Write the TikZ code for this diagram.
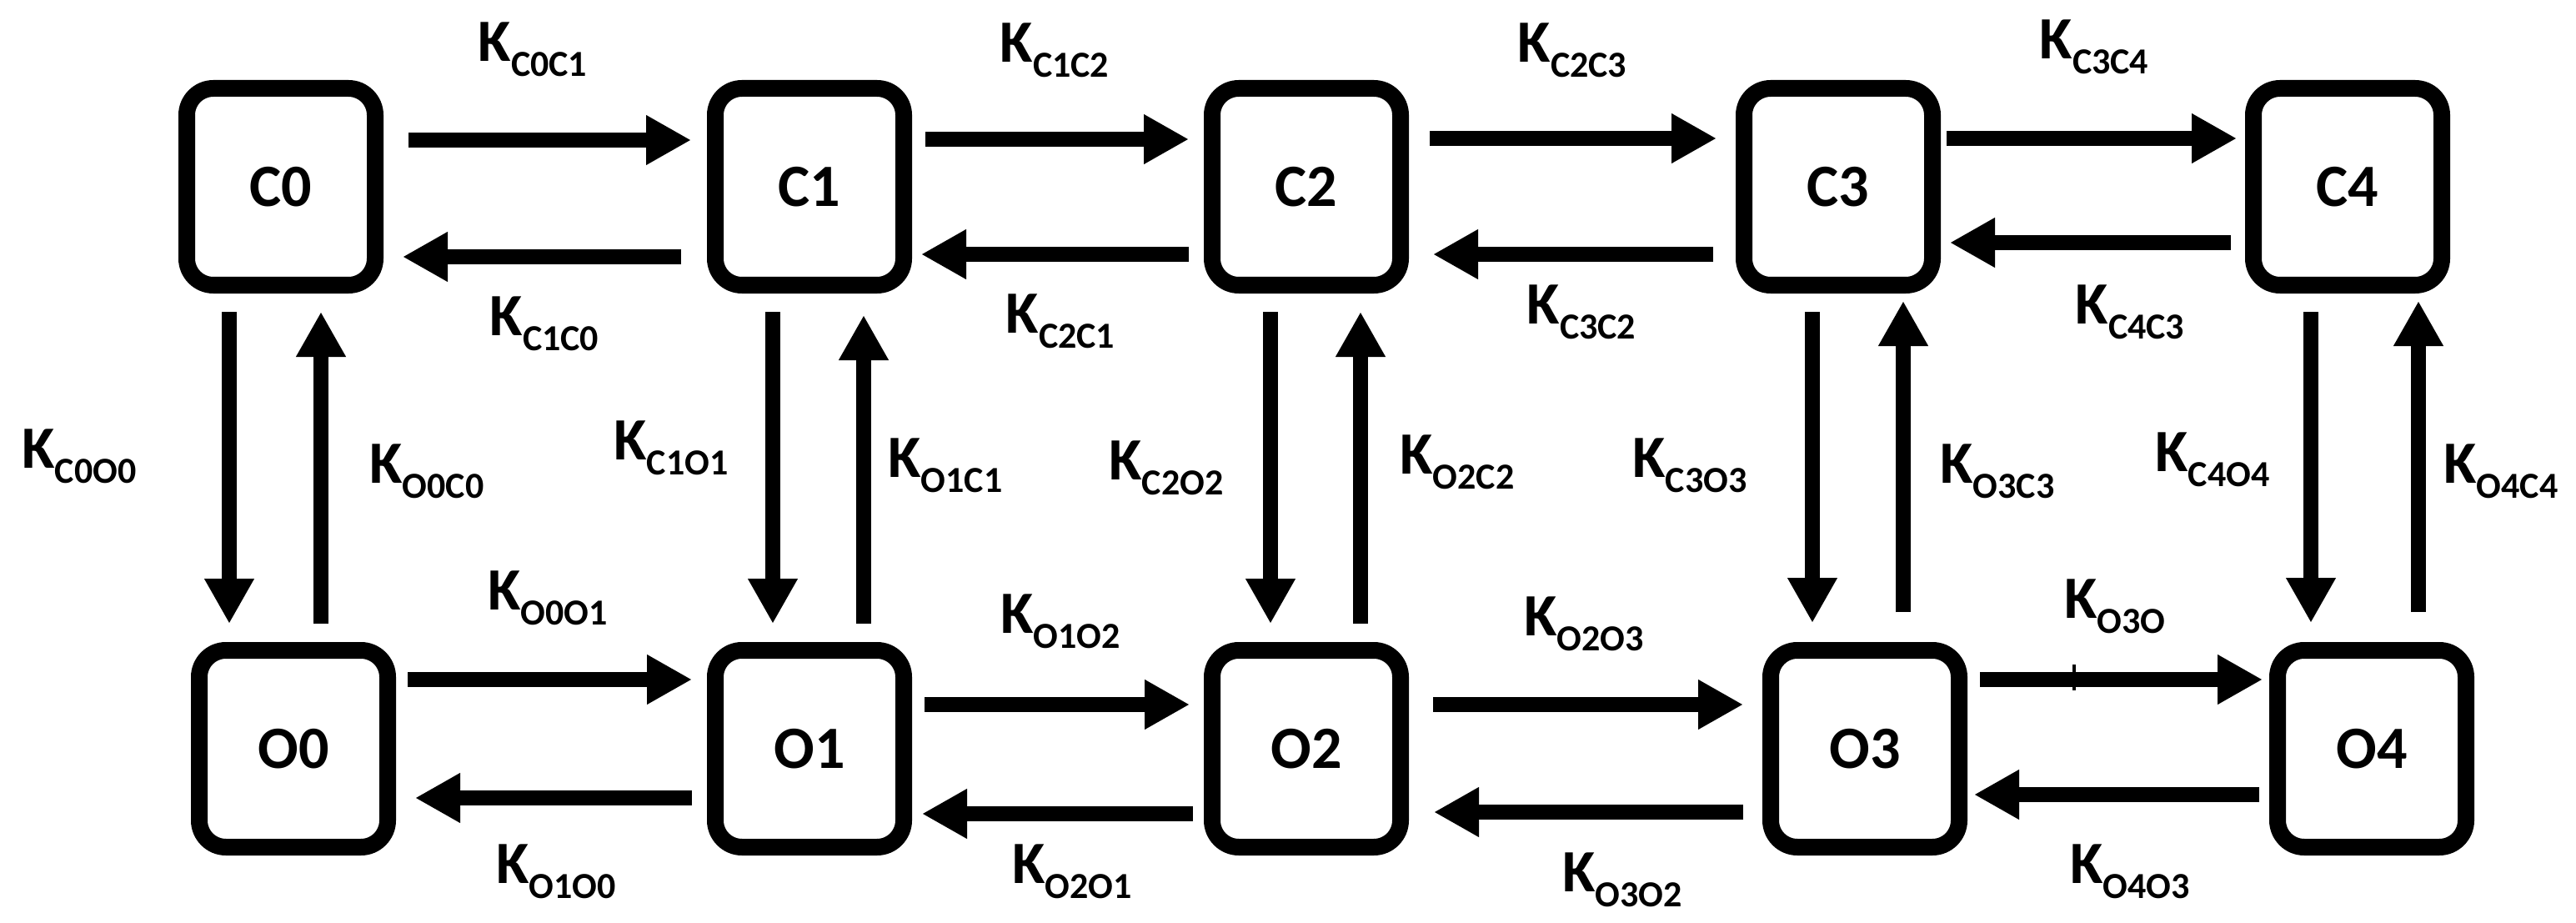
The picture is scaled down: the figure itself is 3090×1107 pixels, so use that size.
\documentclass[tikz,border=0pt]{standalone}
\usepackage{fontspec}
\setmainfont{Carlito}
\usetikzlibrary{arrows.meta}
\newcommand{\Klab}[1]{K\raisebox{-18pt}{\fontsize{44}{44}\selectfont #1}}
\begin{document}
\begin{tikzpicture}[x=1pt,y=-1pt,
  state/.style={draw, line width=20pt, rounded corners=32pt, minimum width=226pt,
    minimum height=236pt, inner sep=0pt, font=\bfseries\fontsize{72}{86}\selectfont},
  arr/.style={line width=18pt, -{Triangle[length=54pt,width=56pt]}},
  lbl/.style={inner sep=0pt, font=\bfseries\fontsize{72}{86}\selectfont}]
\fill[white] (0,0) rectangle (3090,1107);
\useasboundingbox (0,0) rectangle (3090,1107);

% states
\node[state] (C0) at (337,224) {C0};
\node[state] (C1) at (971,224) {C1};
\node[state] (C2) at (1567,224) {C2};
\node[state] (C3) at (2205,224) {C3};
\node[state] (C4) at (2816,224) {C4};
\node[state] (O0) at (352,898) {O0};
\node[state] (O1) at (971,898) {O1};
\node[state] (O2) at (1567,898) {O2};
\node[state] (O3) at (2237,898) {O3};
\node[state] (O4) at (2845,898) {O4};

% top row horizontal
\draw[arr, shorten <=30pt, shorten >=19pt] ([yshift=56pt]C0.east) -- ([yshift=56pt]C1.west);
\draw[arr, shorten <=31pt, shorten >=23pt] ([yshift=-84pt]C1.west) -- ([yshift=-84pt]C0.east);
\draw[arr, shorten <=16pt, shorten >=18pt] ([yshift=57pt]C1.east) -- ([yshift=57pt]C2.west);
\draw[arr, shorten <=18pt, shorten >=11pt] ([yshift=-81pt]C2.west) -- ([yshift=-81pt]C1.east);
\draw[arr, shorten <=25pt, shorten >=23pt] ([yshift=58pt]C2.east) -- ([yshift=58pt]C3.west);
\draw[arr, shorten <=27pt, shorten >=29pt] ([yshift=-81pt]C3.west) -- ([yshift=-81pt]C2.east);
\draw[arr, shorten <=7pt, shorten >=10pt] ([yshift=58pt]C3.east) -- ([yshift=58pt]C4.west);
\draw[arr, shorten <=17pt, shorten >=11pt] ([yshift=-67pt]C4.west) -- ([yshift=-67pt]C3.east);

% bottom row horizontal
\draw[arr, shorten <=14pt, shorten >=18pt] ([yshift=83pt]O0.east) -- ([yshift=83pt]O1.west);
\draw[arr, shorten <=18pt, shorten >=23pt] ([yshift=-59pt]O1.west) -- ([yshift=-59pt]O0.east);
\draw[arr, shorten <=15pt, shorten >=17pt] ([yshift=53pt]O1.east) -- ([yshift=53pt]O2.west);
\draw[arr, shorten <=13pt, shorten >=12pt] ([yshift=-78pt]O2.west) -- ([yshift=-78pt]O1.east);
\draw[arr, shorten <=29pt, shorten >=23pt] ([yshift=53pt]O2.east) -- ([yshift=53pt]O3.west);
\draw[arr, shorten <=23pt, shorten >=30pt] ([yshift=-76pt]O3.west) -- ([yshift=-76pt]O2.east);
\draw[arr, shorten <=15pt, shorten >=8pt] ([yshift=83pt]O3.east) -- ([yshift=83pt]O4.west);
\draw[arr, shorten <=12pt, shorten >=8pt] ([yshift=-55pt]O4.west) -- ([yshift=-55pt]O3.east);

% vertical
\coordinate (d0) at ([xshift=-62pt]C0.south);
\coordinate (u0) at ([xshift=48pt]C0.south);
\coordinate (d1) at ([xshift=-44pt]C1.south);
\coordinate (u1) at ([xshift=65pt]C1.south);
\coordinate (d2) at ([xshift=-43pt]C2.south);
\coordinate (u2) at ([xshift=65pt]C2.south);
\coordinate (d3) at ([xshift=-31pt]C3.south);
\coordinate (u3) at ([xshift=78pt]C3.south);
\coordinate (d4) at ([xshift=-44pt]C4.south);
\coordinate (u4) at ([xshift=85pt]C4.south);

\draw[arr, shorten <=22pt, shorten >=22pt] (d0) -- (d0 |- O0.north);
\draw[arr, shorten <=22pt, shorten >=22pt] (u0 |- O0.north) -- (u0);
\draw[arr, shorten <=22pt, shorten >=22pt] (d1) -- (d1 |- O1.north);
\draw[arr, shorten <=22pt, shorten >=26pt] (u1 |- O1.north) -- (u1);
\draw[arr, shorten <=22pt, shorten >=22pt] (d2) -- (d2 |- O2.north);
\draw[arr, shorten <=22pt, shorten >=22pt] (u2 |- O2.north) -- (u2);
\draw[arr, shorten <=22pt, shorten >=23pt] (d3) -- (d3 |- O3.north);
\draw[arr, shorten <=36pt, shorten >=9pt] (u3 |- O3.north) -- (u3);
\draw[arr, shorten <=22pt, shorten >=23pt] (d4) -- (d4 |- O4.north);
\draw[arr, shorten <=36pt, shorten >=9pt] (u4 |- O4.north) -- (u4);

% stray mark on O3->O4 arrow
\draw[line width=4pt] (2488,797) -- (2488,828);

% labels
\node[lbl] (kc0c1) at (639,59) {\Klab{C0C1}};
\node[lbl] (kc1c0) at (653,388) {\Klab{C1C0}};
\node[lbl] (kc0o0) at (95,547) {\Klab{C0O0}};
\node[lbl] (ko0c0) at (512,565) {\Klab{O0C0}};
\node[lbl] (kc1o1) at (805,537) {\Klab{C1O1}};
\node[lbl] (ko0o1) at (657,717) {\Klab{O0O1}};
\node[lbl] (ko1o0) at (667,1045) {\Klab{O1O0}};
\node[lbl] (kc1c2) at (1265,60) {\Klab{C1C2}};
\node[lbl] (kc2c3) at (1886,60) {\Klab{C2C3}};
\node[lbl] (kc2c1) at (1272,385) {\Klab{C2C1}};
\node[lbl] (kc3c2) at (1897,374) {\Klab{C3C2}};
\node[lbl] (ko1c1) at (1134,558) {\Klab{O1C1}};
\node[lbl] (kc2o2) at (1399,561) {\Klab{C2O2}};
\node[lbl] (ko2c2) at (1748,554) {\Klab{O2C2}};
\node[lbl] (kc3o3) at (2027,558) {\Klab{C3O3}};
\node[lbl] (ko1o2) at (1272,745) {\Klab{O1O2}};
\node[lbl] (ko2o3) at (1900,748) {\Klab{O2O3}};
\node[lbl] (ko2o1) at (1286,1045) {\Klab{O2O1}};
\node[lbl] (ko3o2) at (1946,1055) {\Klab{O3O2}};
\node[lbl] (kc3c4) at (2512,56) {\Klab{C3C4}};
\node[lbl] (kc4c3) at (2555,374) {\Klab{C4C3}};
\node[lbl] (ko3c3) at (2396,565) {\Klab{O3C3}};
\node[lbl] (kc4o4) at (2654,551) {\Klab{C4O4}};
\node[lbl] (ko4c4) at (3000,565) {\Klab{O4C4}};
\node[lbl] (ko3o4) at (2537,727) {\Klab{O3O}};
\node[lbl] (ko4o3) at (2555,1045) {\Klab{O4O3}};
\end{tikzpicture}
\end{document}
